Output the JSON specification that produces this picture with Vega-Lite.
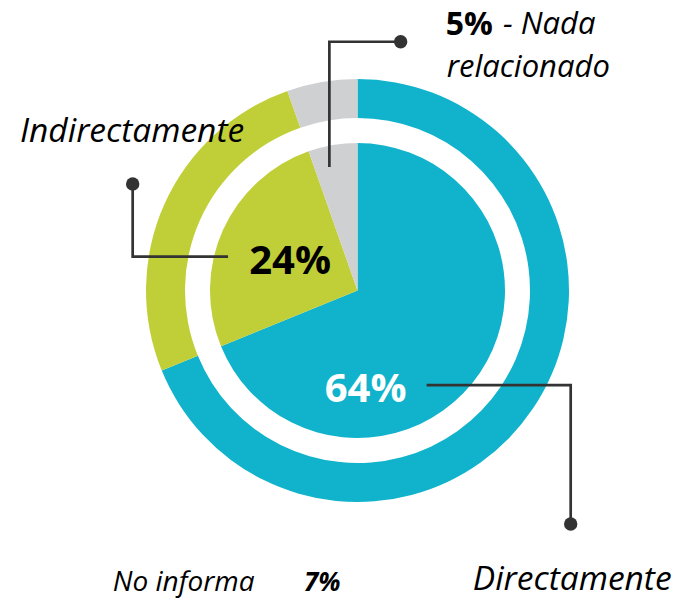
{
  "$schema": "https://vega.github.io/schema/vega-lite/v6.json",
  "width": 657,
  "height": 581,
  "autosize": {"type": "none"},
  "padding": {"left": 29, "top": 0, "right": 0, "bottom": 19},
  "background": "white",
  "config": {"view": {"stroke": null}, "font": "Open Sans"},
  "datasets": {
    "slices": [
      {"category": "Directamente", "value": 64, "ord": 1},
      {"category": "Indirectamente", "value": 24, "ord": 2},
      {"category": "Nada relacionado", "value": 5, "ord": 3}
    ],
    "leaders": [
      {"leader": "nada", "ord": 1, "x": -13.3, "y": 58.4},
      {"leader": "nada", "ord": 2, "x": -13.3, "y": 117.6},
      {"leader": "nada", "ord": 3, "x": 20.4, "y": 117.6},
      {"leader": "indirect", "ord": 1, "x": -61.2, "y": 16.0},
      {"leader": "indirect", "ord": 2, "x": -106.3, "y": 16.0},
      {"leader": "indirect", "ord": 3, "x": -106.3, "y": 50.4},
      {"leader": "direct", "ord": 1, "x": 32.7, "y": -44.7},
      {"leader": "direct", "ord": 2, "x": 100.8, "y": -44.7},
      {"leader": "direct", "ord": 3, "x": 100.8, "y": -110.4}
    ],
    "dots": [
      {"x": 20.4, "y": 117.6},
      {"x": -106.3, "y": 50.4},
      {"x": 100.8, "y": -110.4}
    ],
    "labels": [
      {"label": "Indirectamente", "x": -159.6, "y": 70.4},
      {"label": "Directamente", "x": 54.5, "y": -141.6}
    ],
    "toplabels": [
      {"label": "- Nada", "x": 68.8, "y": 121.3},
      {"label": "relacionado", "x": 42.2, "y": 100.8}
    ],
    "small": [{"label": "No informa", "x": -115.7, "y": -142.1}],
    "smallbold": [{"label": "7%", "x": -25.3, "y": -142.1}],
    "five": [{"label": "5%", "x": 41.7, "y": 121.0}],
    "dark": [{"label": "24%", "x": -31.9, "y": 7.8}],
    "light": [{"label": "64%", "x": 3.8, "y": -52.6}]
  },
  "layer": [
    {
      "data": {"name": "slices"},
      "mark": {"type": "arc", "outerRadius": 211.5, "innerRadius": 172.5},
      "encoding": {
        "theta": {"field": "value", "type": "quantitative", "stack": true},
        "order": {"field": "ord", "type": "quantitative"},
        "color": {
          "field": "category", "type": "nominal", "legend": null,
          "scale": {"domain": ["Directamente", "Indirectamente", "Nada relacionado"], "range": ["#10B3CB", "#C0CF37", "#CFD0D2"]}
        }
      }
    },
    {
      "data": {"name": "slices"},
      "mark": {"type": "arc", "outerRadius": 147.5},
      "encoding": {
        "theta": {"field": "value", "type": "quantitative", "stack": true},
        "order": {"field": "ord", "type": "quantitative"},
        "color": {"field": "category", "type": "nominal", "legend": null}
      }
    },
    {
      "data": {"name": "leaders"},
      "mark": {"type": "line", "color": "#333333", "strokeWidth": 2.7, "strokeCap": "butt", "strokeJoin": "miter"},
      "encoding": {
        "x": {"field": "x", "type": "quantitative", "axis": null, "scale": {"domain": [-155.32, 155.32], "nice": false, "zero": false}},
        "y": {"field": "y", "type": "quantitative", "axis": null, "scale": {"domain": [-137.35, 137.35], "nice": false, "zero": false}},
        "detail": {"field": "leader", "type": "nominal"},
        "order": {"field": "ord", "type": "quantitative"}
      }
    },
    {
      "data": {"name": "dots"},
      "mark": {"type": "circle", "color": "#333333", "opacity": 1, "size": 180},
      "encoding": {
        "x": {"field": "x", "type": "quantitative"},
        "y": {"field": "y", "type": "quantitative"}
      }
    },
    {
      "data": {"name": "labels"},
      "mark": {"type": "text", "align": "left", "baseline": "alphabetic", "fontSize": 33.5, "fontStyle": "italic", "color": "#000000"},
      "encoding": {
        "x": {"field": "x", "type": "quantitative"},
        "y": {"field": "y", "type": "quantitative"},
        "text": {"field": "label"}
      }
    },
    {
      "data": {"name": "toplabels"},
      "mark": {"type": "text", "align": "left", "baseline": "alphabetic", "fontSize": 31, "fontStyle": "italic", "color": "#000000"},
      "encoding": {
        "x": {"field": "x", "type": "quantitative"},
        "y": {"field": "y", "type": "quantitative"},
        "text": {"field": "label"}
      }
    },
    {
      "data": {"name": "small"},
      "mark": {"type": "text", "align": "left", "baseline": "alphabetic", "fontSize": 28, "fontStyle": "italic", "color": "#000000"},
      "encoding": {
        "x": {"field": "x", "type": "quantitative"},
        "y": {"field": "y", "type": "quantitative"},
        "text": {"field": "label"}
      }
    },
    {
      "data": {"name": "smallbold"},
      "mark": {"type": "text", "align": "left", "baseline": "alphabetic", "fontSize": 26, "fontStyle": "italic", "fontWeight": "bold", "color": "#000000"},
      "encoding": {
        "x": {"field": "x", "type": "quantitative"},
        "y": {"field": "y", "type": "quantitative"},
        "text": {"field": "label"}
      }
    },
    {
      "data": {"name": "five"},
      "mark": {"type": "text", "align": "left", "baseline": "alphabetic", "fontSize": 32, "fontWeight": "bold", "color": "#000000"},
      "encoding": {
        "x": {"field": "x", "type": "quantitative"},
        "y": {"field": "y", "type": "quantitative"},
        "text": {"field": "label"}
      }
    },
    {
      "data": {"name": "dark"},
      "mark": {"type": "text", "align": "center", "baseline": "alphabetic", "fontSize": 40, "fontWeight": "bold", "color": "#000000"},
      "encoding": {
        "x": {"field": "x", "type": "quantitative"},
        "y": {"field": "y", "type": "quantitative"},
        "text": {"field": "label"}
      }
    },
    {
      "data": {"name": "light"},
      "mark": {"type": "text", "align": "center", "baseline": "alphabetic", "fontSize": 40, "fontWeight": "bold", "color": "#FFFFFF"},
      "encoding": {
        "x": {"field": "x", "type": "quantitative"},
        "y": {"field": "y", "type": "quantitative"},
        "text": {"field": "label"}
      }
    }
  ]
}
